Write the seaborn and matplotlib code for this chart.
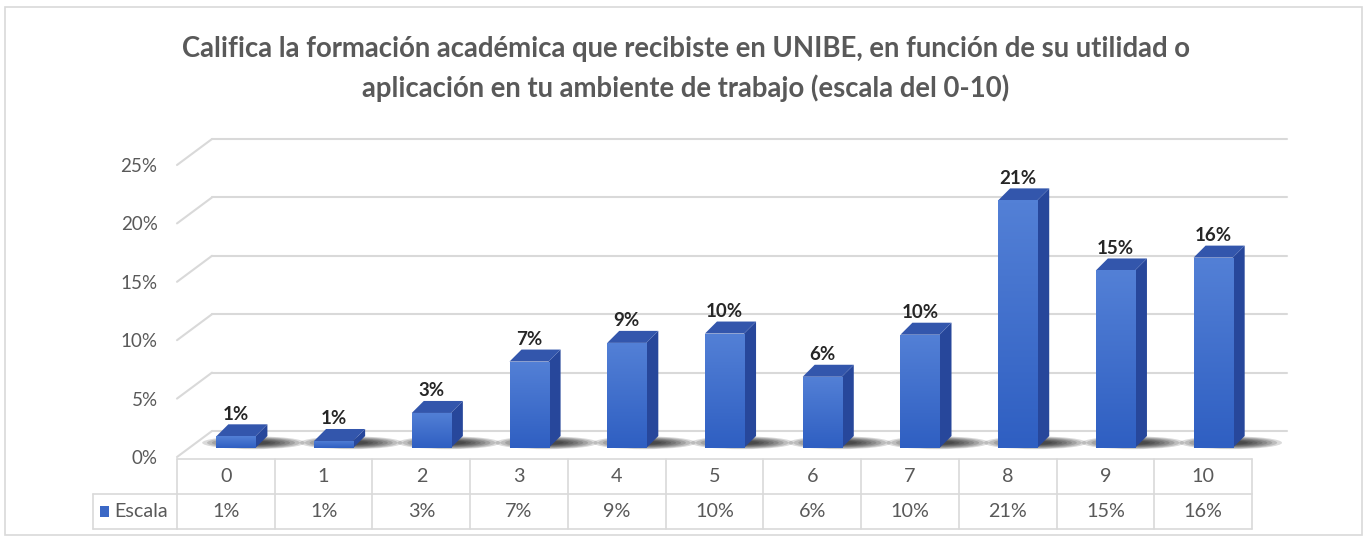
import numpy as np
import matplotlib
matplotlib.use("Agg")
import matplotlib.pyplot as plt
import matplotlib.transforms as mtransforms
from matplotlib.patches import Polygon, Rectangle, Ellipse
from matplotlib.colors import LinearSegmentedColormap
import seaborn as sns

# data
categories = ["0", "1", "2", "3", "4", "5", "6", "7", "8", "9", "10"]
values = [1.0, 0.6, 3.0, 7.4, 9.0, 9.8, 6.1, 9.7, 21.2, 15.2, 16.3]
value_labels = [f"{round(v)}%" for v in values]
y_ticks = [0, 5, 10, 15, 20, 25]
y_tick_labels = [f"{t}%" for t in y_ticks]
series_name = "Escala"
title = ("Califica la formación académica que recibiste en UNIBE, en función de su utilidad o\n"
         "aplicación en tu ambiente de trabajo (escala del 0-10)")

FRONT = "#3B68C6"
SIDE = "#27479B"
TOP = "#3356AC"
GRID = "#D9D9D9"
TEXT = "#595959"

sns.set_theme(style="white")
plt.rcParams['font.family'] = ['Lato', 'DejaVu Sans']

W, H = 1367, 542
fig = plt.figure(figsize=(W / 100, H / 100), dpi=100)
fig.patch.set_facecolor("white")

# axes: front floor at y=457px, 25% at y=165px
ax = fig.add_axes([177 / W, (H - 457) / H, 1075 / W, 292 / H])
sns.barplot(x=categories, y=values, color=FRONT, width=0.4, saturation=1,
            edgecolor="none", ax=ax, zorder=3)
ax.set_xlim(-0.5, len(categories) - 0.5)
ax.set_ylim(0, 25)

px_x = ax.bbox.width / (len(categories))   # pixels per category
px_y = ax.bbox.height / 25                 # pixels per percent

# back wall grid lines + left diagonals
gdx, gdy = 35 / px_x, 26 / px_y
for t in y_ticks:
    ax.plot([-0.5 + gdx, 10.5 + gdx], [t + gdy, t + gdy], color=GRID, lw=1.5,
            clip_on=False, zorder=1)
    ax.plot([-0.5, -0.5 + gdx], [t, t + gdy], color=GRID, lw=1.5,
            clip_on=False, zorder=1)

# 3D look for the bars
shift = mtransforms.ScaledTranslation(10 / 100, 9 / 100, fig.dpi_scale_trans)
bdx, bdy = 12 / px_x, 12 / px_y
grad_cmap = LinearSegmentedColormap.from_list("bar", ["#2F5FC2", "#5380D6"])
grad = np.linspace(0, 1, 64).reshape(-1, 1)
for p in ax.patches[:len(values)]:
    p.set_transform(ax.transData + shift)
    x0, w, h = p.get_x(), p.get_width(), p.get_height()
    x1 = x0 + w
    # vertical gradient on the front face
    im = ax.imshow(grad, cmap=grad_cmap, origin="lower", aspect="auto",
                   extent=[x0, x1, 0, h], zorder=3.1, interpolation="bilinear")
    im.set_transform(ax.transData + shift)
    im.set_clip_path(p)
    side = Polygon([(x1, 0), (x1 + bdx, bdy), (x1 + bdx, h + bdy), (x1, h)],
                   closed=True, facecolor=SIDE, edgecolor="none", zorder=3,
                   transform=ax.transData + shift)
    top = Polygon([(x0, h), (x1, h), (x1 + bdx, h + bdy), (x0 + bdx, h + bdy)],
                  closed=True, facecolor=TOP, edgecolor="none", zorder=3,
                  transform=ax.transData + shift)
    ax.add_patch(side)
    ax.add_patch(top)
    # soft shadow on the floor
    for k in range(8):
        sh = Ellipse((x0 + w / 2 + 0.18, 0.45), 1.05 - k * 0.1, 1.1 - k * 0.11,
                     facecolor="black", edgecolor="none", alpha=0.14,
                     zorder=2, transform=ax.transData + shift, clip_on=False)
        ax.add_patch(sh)

ax.set_xlim(-0.5, len(categories) - 0.5)
ax.set_ylim(0, 25)

for i, (v, lab) in enumerate(zip(values, value_labels)):
    ax.annotate(lab, xy=(i, v), xytext=(10, 9 + 22), textcoords="offset pixels",
                ha="center", va="center", fontsize=13.5, fontweight="bold",
                color="#262626", zorder=5, annotation_clip=False)

ax.set_yticks(y_ticks)
ax.set_yticklabels(y_tick_labels, fontsize=13.5, color=TEXT)
ax.tick_params(axis="y", length=0, pad=14)
ax.set_xticks([])
ax.set_xlabel("")
ax.set_ylabel("")
for s in ax.spines.values():
    s.set_visible(False)
ax.patch.set_alpha(0)

# data table under the chart (x in data, y in figure pixels)
tb = mtransforms.blended_transform_factory(ax.transData, fig.transFigure)
def fy(p):
    return (H - p) / H

y_top, y_mid, y_bot = 459, 494, 529
n = len(categories)
for yy in (y_top, y_mid, y_bot):
    ax.plot([-0.5, n - 0.5], [fy(yy)] * 2, color=GRID, lw=1.2, transform=tb, clip_on=False)
for k in range(n + 1):
    ax.plot([k - 0.5, k - 0.5], [fy(y_top), fy(y_bot)], color=GRID, lw=1.2,
            transform=tb, clip_on=False)
for i, (c, lab) in enumerate(zip(categories, value_labels)):
    ax.text(i, fy((y_top + y_mid) / 2), c, ha="center", va="center",
            fontsize=14.2, color=TEXT, transform=tb)
    ax.text(i, fy((y_mid + y_bot) / 2), lab, ha="center", va="center",
            fontsize=14.2, color=TEXT, transform=tb)

# row label cell
fig.add_artist(plt.Line2D([93 / W, 177 / W], [fy(y_mid)] * 2, color=GRID, lw=1.2))
fig.add_artist(plt.Line2D([93 / W, 177 / W], [fy(y_bot)] * 2, color=GRID, lw=1.2))
fig.add_artist(plt.Line2D([93 / W, 93 / W], [fy(y_mid), fy(y_bot)], color=GRID, lw=1.2))
fig.add_artist(Rectangle((100 / W, fy(517)), 9 / W, 11 / H, facecolor=FRONT,
                         edgecolor="none", transform=fig.transFigure))
fig.text(114 / W, fy((y_mid + y_bot) / 2), series_name, ha="left", va="center",
         fontsize=14.2, color=TEXT)

# title
fig.text(686 / W, fy(69), title, ha="center", va="center", fontsize=19.8,
         fontweight="bold", color=TEXT, linespacing=1.55)

# chart border
fig.add_artist(Rectangle((5 / W, fy(535)), 1357 / W, 528 / H, facecolor="none",
                         edgecolor=GRID, lw=1.2, transform=fig.transFigure))

fig.savefig("out.png", dpi=100)
